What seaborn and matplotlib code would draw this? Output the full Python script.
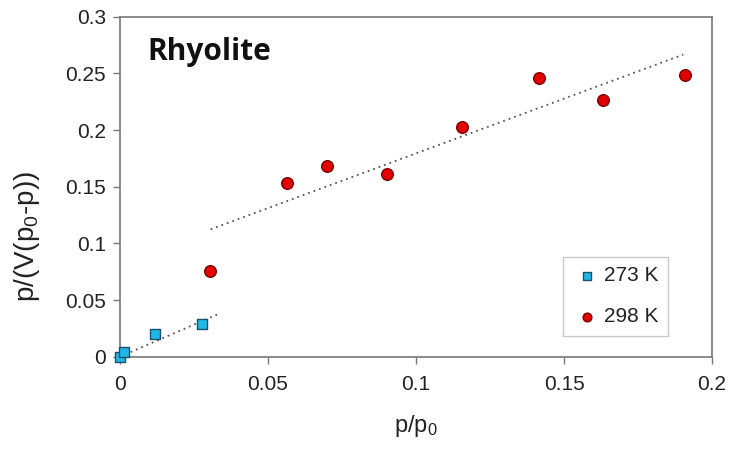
import matplotlib
matplotlib.use("Agg")
import matplotlib.pyplot as plt
import seaborn as sns
import pandas as pd

# 273 K data
x_273 = [0.0, 0.0015, 0.0118, 0.0278]
y_273 = [0.0, 0.0039, 0.020, 0.0288]
# 298 K data
x_298 = [0.0304, 0.0564, 0.0700, 0.0903, 0.1157, 0.1416, 0.1633, 0.1908]
y_298 = [0.0752, 0.153, 0.168, 0.161, 0.203, 0.2457, 0.2265, 0.249]
# trend lines (endpoints)
fit_273_x = [0.0, 0.0332]
fit_273_y = [0.0, 0.0376]
fit_298_x = [0.0306, 0.1903]
fit_298_y = [0.1124, 0.2666]

x_ticks = [0, 0.05, 0.1, 0.15, 0.2]
x_tick_labels = ["0", "0.05", "0.1", "0.15", "0.2"]
y_ticks = [0, 0.05, 0.1, 0.15, 0.2, 0.25, 0.3]
y_tick_labels = ["0", "0.05", "0.1", "0.15", "0.2", "0.25", "0.3"]

sns.set_theme(style="white")
plt.rcParams['font.family'] = ['Liberation Sans', 'DejaVu Sans']
plt.rcParams['mathtext.fontset'] = 'custom'
plt.rcParams['mathtext.rm'] = 'Liberation Sans'
plt.rcParams['mathtext.it'] = 'Liberation Sans'
plt.rcParams['mathtext.default'] = 'regular'

fig = plt.figure(figsize=(7.33, 4.53), dpi=100)
ax = fig.add_axes([120/733, 1-356.7/453, (712-120)/733, (356.7-16.7)/453])

sns.lineplot(x=fit_298_x, y=fit_298_y, ax=ax, color="#555555", linestyle=(0, (1, 2.2)), linewidth=1.3, zorder=2)
sns.lineplot(x=fit_273_x, y=fit_273_y, ax=ax, color="#555555", linestyle=(0, (1, 2.2)), linewidth=1.3, zorder=2)

df273 = pd.DataFrame({"x": x_273, "y": y_273})
df298 = pd.DataFrame({"x": x_298, "y": y_298})
sns.scatterplot(data=df273, x="x", y="y", ax=ax, marker="s", s=60, color="#1DB8E8",
                edgecolor="#1C4F6E", linewidth=1.0, label="273 K", zorder=3, clip_on=False)
sns.scatterplot(data=df298, x="x", y="y", ax=ax, marker="o", s=70, color="#E30000",
                edgecolor="#7A0000", linewidth=1.0, label="298 K", zorder=3, clip_on=False)

ax.set_xlim(0, 0.2)
ax.set_ylim(0, 0.3)
ax.set_xticks(x_ticks)
ax.set_xticklabels(x_tick_labels)
ax.set_yticks(y_ticks)
ax.set_yticklabels(y_tick_labels)
ax.tick_params(axis="both", direction="out", length=5, width=1, color="#777777",
               labelsize=15, labelcolor="#222222", bottom=True, left=True, pad=5)
ax.tick_params(axis="x", pad=8)
for sp in ax.spines.values():
    sp.set_visible(True)
    sp.set_color("#777777")
    sp.set_linewidth(1.2)

ax.set_xlabel("p/p$_0$", fontsize=17, color="#222222", labelpad=14)
ax.set_ylabel("p/(V(p$_0$-p))", fontsize=20, color="#222222")
ax.yaxis.set_label_coords(-0.132, 0.353)

ax.text(0.047, 0.895, "Rhyolite", transform=ax.transAxes, fontsize=21.5, fontweight="bold",
        family=["Open Sans", "DejaVu Sans"], color="#111111", va="center", ha="left")

leg = ax.legend(loc="lower right", bbox_to_anchor=(0.9435, 0.030), frameon=True, fancybox=False,
                fontsize=15, handletextpad=0.1, borderpad=0.47, labelspacing=1.05,
                handlelength=1.4, markerscale=0.75)
leg.get_frame().set_edgecolor("#BBBBBB")
leg.get_frame().set_linewidth(1.0)
for t in leg.get_texts():
    t.set_color("#222222")

fig.savefig("out.png", dpi=100)
